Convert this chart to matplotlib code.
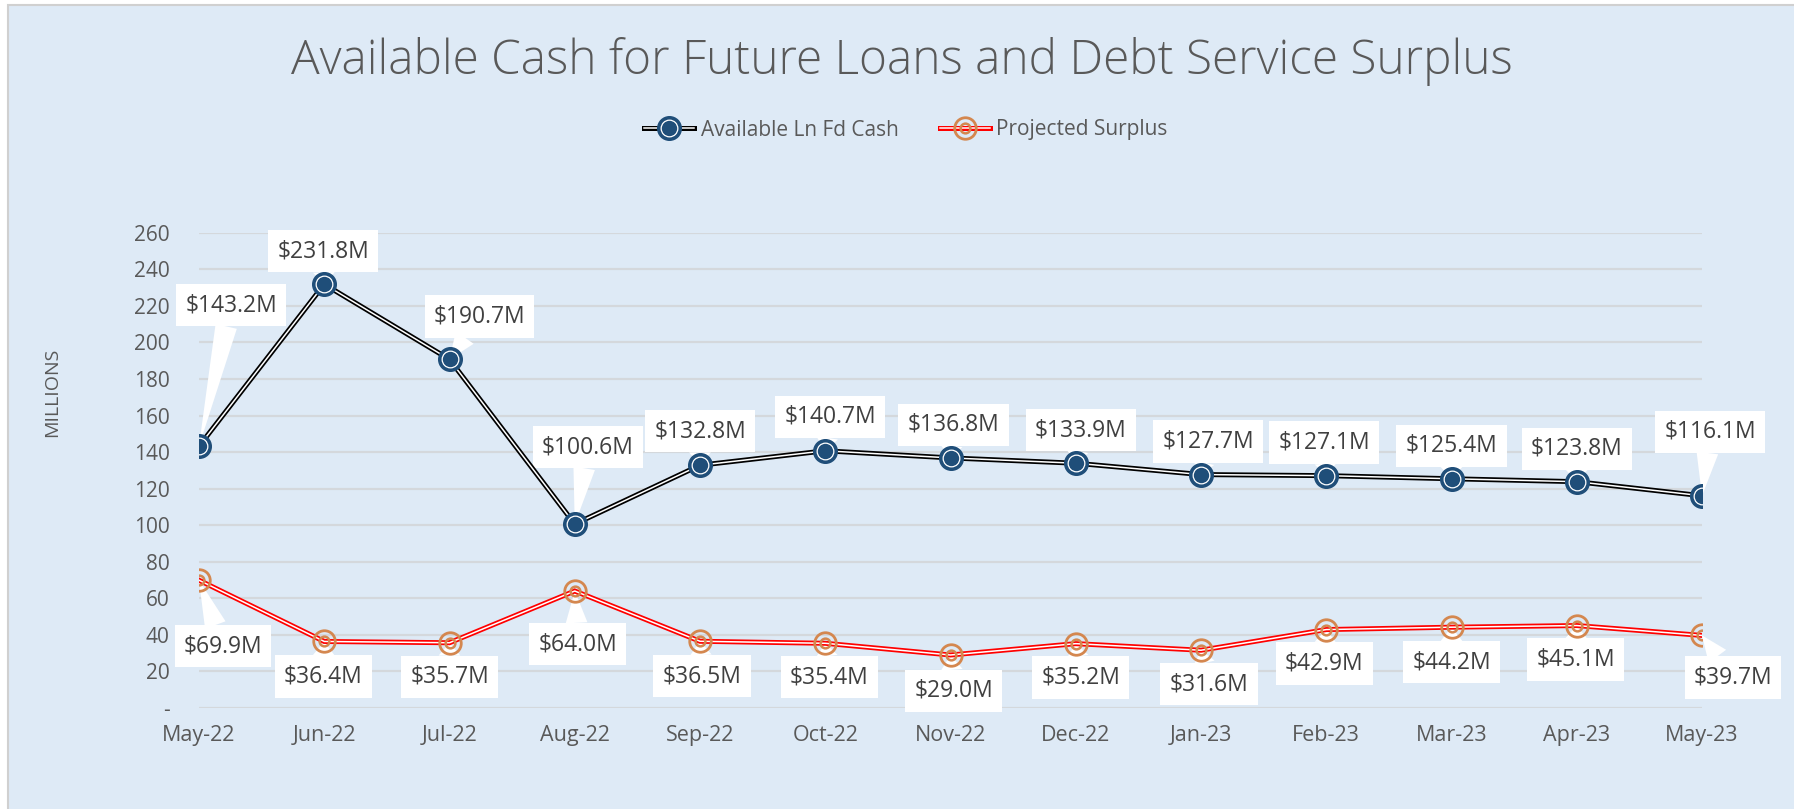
import matplotlib
matplotlib.use("Agg")
import matplotlib.pyplot as plt
from matplotlib.lines import Line2D
from matplotlib.patches import Rectangle
from matplotlib.ticker import FuncFormatter, MultipleLocator

# ---------------- data ----------------
months = ["May-22", "Jun-22", "Jul-22", "Aug-22", "Sep-22", "Oct-22", "Nov-22",
          "Dec-22", "Jan-23", "Feb-23", "Mar-23", "Apr-23", "May-23"]
available_cash = [143.2, 231.8, 190.7, 100.6, 132.8, 140.7, 136.8,
                  133.9, 127.7, 127.1, 125.4, 123.8, 116.1]
projected_surplus = [69.9, 36.4, 35.7, 64.0, 36.5, 35.4, 29.0,
                     35.2, 31.6, 42.9, 44.2, 45.1, 39.7]
series_names = ["Available Ln Fd Cash", "Projected Surplus"]
title_text = "Available Cash for Future Loans and Debt Service Surplus"
y_title = "MILLIONS"

# ---------------- layout (label callout offsets, in pixels) ----------------
cash_label_offsets = [(32, 141), (-1, 33), (30, 43), (13, 77), (0, 34), (5, 34), (3, 33),
                      (5, 33), (7, 33), (-2, 33), (0, 33), (0, 33), (8, 64)]
surplus_label_offsets = [(24, -66), (-1, -35), (0, -34), (3, -53), (2, -35), (4, -34), (3, -36),
                         (5, -34), (8, -34), (-2, -34), (0, -35), (-1, -34), (31, -42)]

W, H = 1794, 809
BG = "#DEEAF6"
GRID = "#D4D8DC"
TXT = "#595959"
BLUE = "#1F4E79"
ORANGE = "#D4874F"
FONT = "Open Sans"

plt.rcParams["font.family"] = [FONT, "DejaVu Sans"]

fig = plt.figure(figsize=(W / 100, H / 100), dpi=100, facecolor="white")

# chart area background with thin border
fig.patches.append(Rectangle((8 / W, -0.05), 1.1, 1 - 5 / H + 0.05, transform=fig.transFigure,
                             facecolor=BG, edgecolor="#D0D0D0", linewidth=1.5, zorder=-10))

left, right = 199 / W, 1702 / W
bottom, top = 1 - 708 / H, 1 - 232.7 / H
ax = fig.add_axes([left, bottom, right - left, top - bottom])
ax.set_zorder(1)
ax.set_facecolor("none")
ax.set_xlim(0, len(months) - 1)
ax.set_ylim(0, 260)
for s in ax.spines.values():
    s.set_visible(False)
ax.yaxis.set_major_locator(MultipleLocator(20))
ax.yaxis.set_major_formatter(FuncFormatter(lambda v, p: "-" if abs(v) < 1e-9 else f"{v:.0f}"))
ax.set_xticks(range(len(months)))
ax.set_xticklabels(months)
ax.tick_params(axis="both", length=0, labelcolor=TXT)
ax.tick_params(axis="y", pad=21, labelsize=15)
ax.tick_params(axis="x", pad=12, labelsize=15.5)
ax.grid(axis="y", color=GRID, linewidth=1.6, zorder=0)
ax.set_axisbelow(True)

x = list(range(len(months)))

# double lines
ax.plot(x, available_cash, color="black", lw=3.6, zorder=3, solid_joinstyle="miter")
ax.plot(x, available_cash, color="white", lw=1.1, zorder=3.1)
ax.plot(x, projected_surplus, color="#FF0000", lw=3.6, zorder=3, solid_joinstyle="miter")
ax.plot(x, projected_surplus, color="white", lw=1.1, zorder=3.1)

# markers
ax.plot(x, available_cash, ls="none", marker="o", ms=17, mfc=BLUE, mec=BLUE, mew=1, zorder=4)
ax.plot(x, available_cash, ls="none", marker="o", ms=12, mfc="none", mec="white", mew=0.9, zorder=4.1)
ax.plot(x, projected_surplus, ls="none", marker="o", ms=15.5, mfc="none", mec=ORANGE, mew=2.0, zorder=4)
ax.plot(x, projected_surplus, ls="none", marker="o", ms=7, mfc="none", mec=ORANGE, mew=1.8, zorder=4.1)

# data label callouts
def callout(i, v, off):
    ax.annotate(f"${v:.1f}M", xy=(i, v), xytext=off, textcoords="offset pixels",
                ha="center", va="center", fontsize=16.5, color="#404040",
                bbox=dict(boxstyle="square,pad=0.4", fc="white", ec="none"),
                arrowprops=dict(arrowstyle="wedge,tail_width=0.95", fc="white", ec="none",
                                shrinkA=0, shrinkB=0),
                zorder=2, annotation_clip=False)

for i, v in enumerate(available_cash):
    callout(i, v, cash_label_offsets[i])
for i, v in enumerate(projected_surplus):
    callout(i, v, surplus_label_offsets[i])

# title
fig.text(902 / W, 1 - 62 / H, title_text, ha="center", va="center", fontsize=34.4,
         color=TXT, fontweight="light")

# y axis title
fig.text(52 / W, 1 - 392 / H, y_title, rotation=90, ha="center", va="center",
         fontsize=14, color=TXT)

# legend
h1 = (Line2D([], [], color="black", lw=3.6), Line2D([], [], color="white", lw=1.1),
      Line2D([], [], ls="none", marker="o", ms=17, mfc=BLUE, mec=BLUE),
      Line2D([], [], ls="none", marker="o", ms=12, mfc="none", mec="white", mew=0.9))
h2 = (Line2D([], [], color="#FF0000", lw=3.6), Line2D([], [], color="white", lw=1.1),
      Line2D([], [], ls="none", marker="o", ms=15.5, mfc="none", mec=ORANGE, mew=2.0),
      Line2D([], [], ls="none", marker="o", ms=7, mfc="none", mec=ORANGE, mew=1.8))
fig.legend([h1, h2], series_names, loc="center", bbox_to_anchor=(906 / W, 1 - 130 / H),
           ncol=2, frameon=False, fontsize=15, labelcolor=TXT, handlelength=2.4,
           handletextpad=0.3, columnspacing=2.0)

fig.savefig("out.png", dpi=100, facecolor="white")
